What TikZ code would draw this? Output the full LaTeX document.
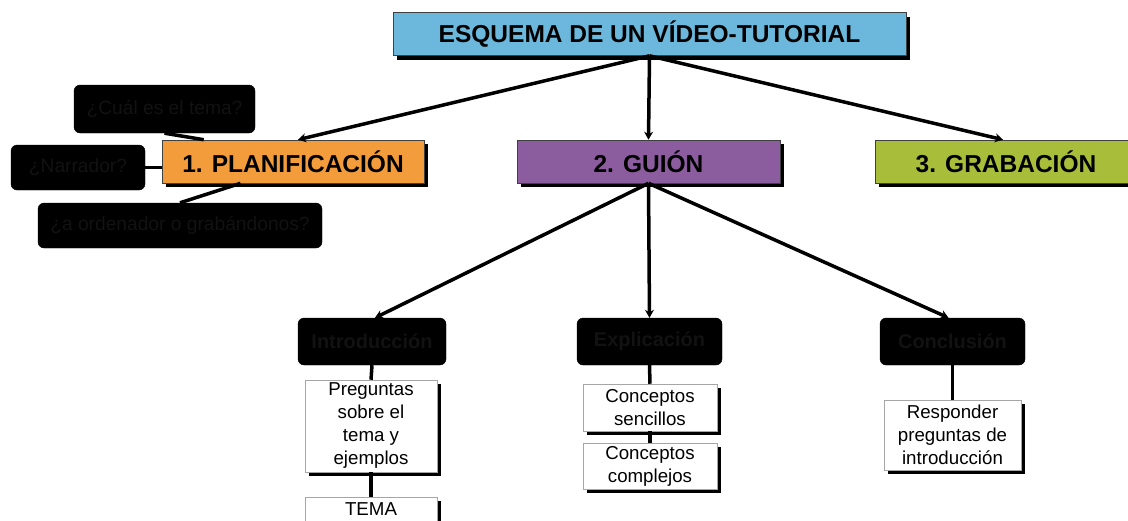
\documentclass[tikz,border=0pt]{standalone}
\usepackage{fontspec}
\setmainfont{Liberation Sans}
\usetikzlibrary{shadows,arrows.meta,calc}
\definecolor{titleblue}{HTML}{6BB8DC}
\definecolor{planorange}{HTML}{F39C3C}
\definecolor{guionpurple}{HTML}{8B5C9E}
\definecolor{grabgreen}{HTML}{A8BD3A}
\tikzset{
  mainbox/.style={draw=black!75, line width=0.6pt, minimum height=43pt, inner sep=0pt,
    font=\fontsize{24.5}{28}\selectfont\bfseries,
    drop shadow={shadow xshift=4pt, shadow yshift=-4pt, fill=black, opacity=1}},
  darkbox/.style={fill=black, draw=black, rounded corners=6pt, inner sep=0pt,
    text=black!93, font=\fontsize{19.2}{23}\selectfont},
  darkbold/.style={darkbox, minimum width=146pt, minimum height=47pt,
    font=\fontsize{20}{24}\selectfont\bfseries},
  whitebox/.style={fill=white, draw=black!35, line width=0.5pt, align=center, inner sep=0pt,
    font=\fontsize{18.7}{23}\selectfont,
    drop shadow={shadow xshift=4pt, shadow yshift=-4pt, fill=black, opacity=1}},
  arrowline/.style={line width=3.5pt, -{Stealth[length=8pt,width=9pt]}},
  linkline/.style={line width=3.5pt}
}
\begin{document}
\begin{tikzpicture}[x=1pt,y=-1pt]
\useasboundingbox (0,0) rectangle (1128,520);
\clip (0,0) rectangle (1128,520);
% top-level boxes
\node[mainbox, fill=titleblue, minimum width=513pt] (title) at (649.5,34) {ESQUEMA DE UN VÍDEO-TUTORIAL};
\node[mainbox, fill=planorange, minimum width=262pt] (plan) at (293,161.5) {1. PLANIFICACIÓN};
\node[mainbox, fill=guionpurple, minimum width=263pt] (guion) at (648.5,161.5) {2. GUIÓN};
\node[mainbox, fill=grabgreen, minimum width=262pt] (grab) at (1006,161.5) {3. GRABACIÓN};
% planning questions
\node[darkbox, minimum width=181pt, minimum height=48pt] (cual) at (164.5,109) {¿Cuál es el tema?};
\node[darkbox, minimum width=134pt, minimum height=45pt] (narr) at (78,167.5) {¿Narrador?};
\node[darkbox, minimum width=284pt, minimum height=45pt] (orden) at (180,225.5) {¿a ordenador o grabándonos?};
% script parts
\node[darkbold, minimum width=148pt] (intro) at (372,341.5) {Introducción};
\node[darkbold, minimum width=145pt] (expl) at (649.5,341.5) {Explicación};
\node[darkbold, minimum width=145pt] (concl) at (952.5,341.5) {Conclusión};
% detail boxes
\node[whitebox, minimum width=132pt, minimum height=92pt] (preg) at (371,426) {Preguntas\\sobre el\\tema y\\ejemplos};
\node[whitebox, minimum width=132pt, minimum height=40pt, anchor=north, inner ysep=5pt] (tema) at (371,497) {TEMA\\\strut};
\node[whitebox, minimum width=134pt, minimum height=47pt] (senc) at (650,407.5) {Conceptos\\sencillos};
\node[whitebox, minimum width=134pt, minimum height=46pt] (comp) at (650,466) {Conceptos\\complejos};
\node[whitebox, minimum width=137pt, minimum height=70pt] (resp) at (952.5,435) {Responder\\preguntas de\\introducción};
% arrows
\draw[arrowline] (title.south) -- ($(plan.north)+(5,0)$);
\draw[arrowline] (title.south) -- (guion.north);
\draw[arrowline] (title.south) -- ($(grab.north)+(-3,0)$);
\draw[arrowline] (guion.south) -- ($(intro.north)+(3,0)$);
\draw[arrowline] (guion.south) -- (expl.north);
\draw[arrowline] (guion.south) -- ($(concl.north)+(-4,0)$);
% links
\draw[linkline] (cual.south) -- ($(plan.north west)!0.16!(plan.north east)$);
\draw[linkline] (narr.east) -- (narr.east -| plan.west);
\draw[linkline] ($(plan.south west)!0.3!(plan.south east)$) -- (orden.north);
\draw[linkline] (intro.south) -- (preg.north);
\draw[linkline] (preg.south) -- (tema.north);
\draw[linkline] (expl.south) -- (senc.north);
\draw[linkline] (senc.south) -- (comp.north);
\draw[linkline] (concl.south) -- (resp.north);
\end{tikzpicture}
\end{document}
